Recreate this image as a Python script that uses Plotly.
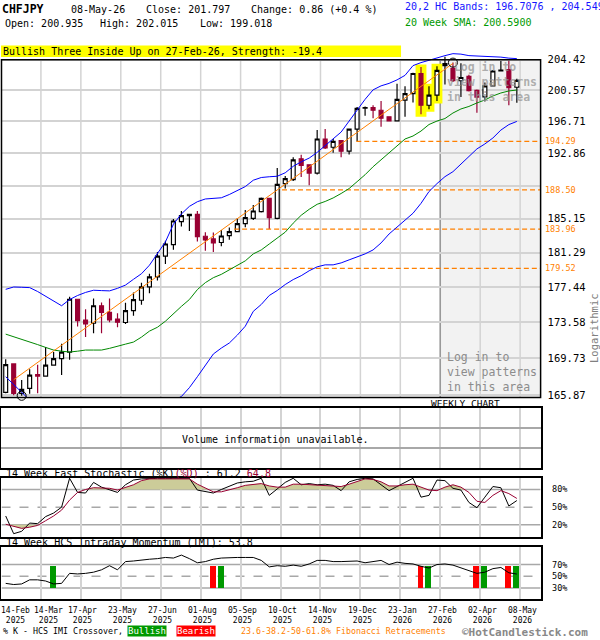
import math
import plotly.graph_objects as go

# ---------------------------------------------------------------- data
symbol = "CHFJPY"
last_date = "08-May-26"
change_abs = 0.86
change_pct = 0.4

opens = [166.19, 169.15, 166.09, 166.60, 168.04, 167.88, 169.02, 169.71, 170.41, 176.10,
         173.84, 173.49, 175.39, 174.67, 173.95, 173.57, 174.85, 175.99, 177.46, 178.56,
         180.88, 182.18, 184.81, 185.50, 185.65, 183.14, 182.84, 182.43, 183.21, 183.67,
         184.59, 185.20, 185.97, 187.50, 185.20, 189.24, 189.70, 192.18, 191.47, 190.49,
         194.57, 193.57, 194.37, 193.10, 195.77, 198.35, 198.41, 198.08, 197.27, 196.78,
         199.34, 200.13, 202.66, 198.70, 199.96, 203.66, 203.32, 201.75, 202.29, 200.55,
         199.74, 201.10, 203.00, 203.16, 200.935]
highs = [169.65, 169.20, 167.47, 168.60, 169.08, 170.94, 170.41, 171.29, 176.37, 176.15,
         175.02, 176.18, 175.75, 176.18, 174.56, 175.72, 176.84, 177.93, 178.92, 181.36,
         182.63, 185.12, 186.04, 185.73, 186.04, 183.61, 183.58, 183.86, 184.14, 185.20,
         186.15, 186.73, 187.62, 187.55, 191.08, 190.14, 192.38, 192.66, 191.50, 195.65,
         195.77, 194.57, 194.45, 195.77, 198.48, 198.53, 198.69, 199.22, 197.30, 201.36,
         201.06, 202.75, 203.50, 201.06, 203.58, 204.80, 204.04, 203.95, 202.50, 200.67,
         201.52, 203.10, 204.23, 204.29, 202.015]
lows = [166.09, 165.90, 165.83, 166.04, 166.09, 167.81, 169.00, 167.98, 169.60, 173.13,
        172.00, 172.42, 172.42, 173.60, 173.06, 173.41, 174.31, 175.50, 176.76, 178.18,
        180.02, 181.62, 184.25, 183.75, 182.55, 181.51, 181.36, 182.00, 182.73, 183.60,
        184.17, 185.00, 185.86, 183.98, 185.08, 188.66, 189.55, 190.02, 189.04, 190.33,
        193.37, 192.90, 192.38, 192.70, 194.29, 197.39, 197.11, 196.05, 196.75, 196.75,
        197.27, 199.03, 197.60, 198.20, 199.22, 201.29, 201.60, 199.73, 200.40, 197.76,
        199.16, 201.05, 202.90, 198.69, 199.018]
closes = [169.08, 166.09, 166.50, 167.98, 167.88, 169.02, 169.71, 170.41, 176.10, 173.78,
          173.41, 175.39, 174.67, 173.84, 173.60, 174.85, 176.07, 177.46, 178.56, 180.88,
          182.26, 184.89, 185.50, 185.65, 183.11, 182.73, 182.39, 183.17, 183.67, 184.59,
          185.28, 186.04, 187.50, 185.28, 189.15, 189.82, 192.06, 191.39, 190.49, 194.57,
          193.49, 194.29, 193.10, 195.77, 198.32, 198.42, 198.08, 197.11, 196.78, 199.43,
          200.13, 202.66, 198.70, 199.96, 203.07, 203.91, 201.75, 202.16, 200.50, 199.71,
          201.10, 202.98, 203.10, 200.88, 201.797]

upper_band = [177.19, 177.45, 177.42, 177.38, 176.95, 176.45, 175.90, 175.39, 176.07, 176.51,
              176.85, 177.09, 177.05, 177.02, 177.30, 177.66, 178.30, 178.92, 179.87, 181.13,
              182.50, 184.52, 185.70, 186.58, 187.12, 187.44, 187.52, 187.58, 187.96, 188.40,
              188.89, 189.64, 189.96, 190.05, 190.11, 190.52, 191.29, 191.82, 192.27, 192.95,
              193.73, 194.57, 195.41, 196.75, 198.08, 199.43, 200.61, 201.11, 201.42, 201.86,
              202.43, 203.66, 204.04, 204.36, 204.67, 204.93, 205.18, 205.12, 204.93, 204.90,
              204.86, 204.80, 204.74, 204.61, 204.549]
lower_band = [167.81, 166.99, 166.17, 165.30, 164.60, 164.00, 163.50, 163.10, 162.60, 162.20,
              162.00, 161.90, 161.90, 162.00, 162.20, 162.50, 162.90, 163.40, 163.90, 164.40,
              164.90, 165.35, 165.76, 166.67, 167.81, 169.06, 170.20, 170.83, 171.37, 172.21,
              173.17, 174.78, 175.53, 176.51, 177.06, 177.72, 178.27, 178.70, 179.25, 179.69,
              179.91, 179.91, 180.13, 180.47, 180.80, 181.14, 181.59, 182.38, 183.40, 184.18,
              184.98, 185.78, 186.93, 188.31, 189.24, 190.06, 190.65, 191.53, 192.42, 193.37,
              193.97, 194.69, 195.65, 196.32, 196.7076]
sma20 = [172.32, 172.05, 171.79, 171.50, 171.20, 170.90, 170.62, 170.50, 170.41, 170.50,
         170.62, 170.62, 170.62, 170.80, 170.99, 171.25, 171.47, 172.00, 172.64, 173.06,
         173.71, 174.56, 175.32, 176.07, 177.16, 177.93, 178.48, 178.85, 179.36, 179.91,
         180.36, 181.14, 181.59, 182.26, 182.93, 183.61, 184.64, 185.55, 186.24, 186.82,
         187.15, 187.56, 188.08, 188.66, 189.47, 190.29, 191.24, 192.06, 192.90, 193.73,
         194.57, 194.93, 195.53, 196.33, 196.75, 197.06, 197.74, 198.24, 198.55, 198.98,
         199.35, 199.85, 200.22, 200.47, 200.59]

stoch_k = [35, 5, 9, 23, 22, 34, 40, 50, 99, 75, 74, 92, 84, 79, 75, 88, 96, 98, 99, 99,
           99, 99, 99, 99, 79, 76, 74, 80, 85, 91, 93, 94, 99, 70, 81, 92, 99, 88, 90, 88,
           89, 87, 78, 93, 97, 99, 98, 88, 78, 85, 92, 99, 67, 70, 96, 95, 82, 79, 58, 49,
           67, 85, 83, 52, 61.2]
stoch_d = [21, 17, 14, 16, 19, 27, 35, 45, 62, 75, 80, 83, 83, 82, 79, 83, 88, 95, 98, 98,
           98, 98, 98, 98, 89, 82, 76, 76, 79, 83, 87, 89, 90, 86, 84, 84, 89, 89, 88, 87,
           87, 86, 85, 89, 94, 98, 97, 93, 86, 86, 88, 89, 84, 79, 78, 84, 88, 84, 75, 60,
           58, 70, 78, 73, 64.8]
imi = [38, 36, 37, 44, 44, 42, 37, 38, 55, 54, 55, 57, 61, 68, 61, 75, 76, 78, 79, 80,
       82, 81, 86, 80, 73, 75, 79, 81, 82, 82, 82, 82, 77, 66, 68, 67, 69, 67, 71, 77,
       77, 75, 75, 75, 76, 73, 75, 77, 70, 74, 72, 71, 67, 64, 70, 71, 69, 64, 59, 55,
       57, 63, 65, 56, 53.8]
bullish_cross = [6, 27, 53, 60, 64]
bearish_cross = [26, 52, 59, 63]

fib_levels = [194.29, 188.50, 183.96, 179.52]
fib_start_week = [43.9, 34.6, 28.6, 20.8]
trend_weeks = [1, 56]
trend_values = [167.5, 203.94]
low_mark_week = 2
high_mark_week = 56

pattern_text = "Bullish Three Inside Up on 27-Feb-26, Strength: -19.4"
pattern_weeks = [52, 53, 54]

price_ticks = [204.42, 200.57, 196.71, 192.86, 189.00, 185.15, 181.29, 177.44, 173.58, 169.73, 165.87]
price_tick_text = ["204.42", "200.57", "196.71", "192.86", "", "185.15", "181.29", "177.44",
                   "173.58", "169.73", "165.87"]
label_weeks = [0, 4, 9, 14, 19, 24, 29, 34, 39, 44, 49, 54, 59, 64]
label_dates = ["14-Feb", "14-Mar", "17-Apr", "23-May", "27-Jun", "01-Aug", "05-Sep",
               "10-Oct", "14-Nov", "19-Dec", "23-Jan", "27-Feb", "02-Apr", "08-May"]
label_years = ["2025"] * 10 + ["2026"] * 4

# ---------------------------------------------------------------- geometry / style
W, H = 600, 640
FONT = "DejaVu Sans Mono"
X0_PX, X1_PX = 0.5, 540.5
SLOT, FIRST = 8.0, 4.7
XR = [(X0_PX - FIRST) / SLOT, (X1_PX - FIRST) / SLOT]
GRID_SHIFT = 0.4125           # grid lines sit just right of the labelled candle
grid_pos = [w + GRID_SHIFT for w in label_weeks[1:]]
PX_PER_LN = 1617.0
TOP_REF = 204.42              # value at y = 60 px
LN10 = math.log(10)
y_lo = math.log10(TOP_REF) - 340 / (PX_PER_LN * LN10)
y_hi = math.log10(TOP_REF) + 8 / (PX_PER_LN * LN10)
IMI_TOP_PX, IMI_BOT_PX = 550.3, 602.7
IMI_PX_PER_PCT = 0.5925
imi_range = [100 - (IMI_BOT_PX - IMI_TOP_PX) / IMI_PX_PER_PCT, 100]

def pyp(p):  # pixel y -> paper
    return 1 - p / H

def pxp(p):  # pixel x -> paper
    return p / W

weeks = list(range(len(closes)))
RED = "#990033"
GRID = "#d3d3d3"
HGRID = "#a8a8a8"
ORANGE = "#ff8000"

fig = go.Figure()

# fibonacci lines
for lvl, st in zip(fib_levels, fib_start_week):
    fig.add_trace(go.Scatter(x=[st, XR[1]], y=[lvl, lvl], mode="lines",
                             line=dict(color=ORANGE, width=1.3, dash="5px,3px"),
                             hoverinfo="skip", xaxis="x", yaxis="y"))

# bands & sma
fig.add_trace(go.Scatter(x=weeks, y=upper_band, mode="lines", line=dict(color="#0000ff", width=1),
                         hoverinfo="skip", xaxis="x", yaxis="y"))
fig.add_trace(go.Scatter(x=weeks, y=lower_band, mode="lines", line=dict(color="#0000ff", width=1),
                         hoverinfo="skip", xaxis="x", yaxis="y"))
fig.add_trace(go.Scatter(x=weeks, y=sma20, mode="lines", line=dict(color="#008800", width=1),
                         hoverinfo="skip", xaxis="x", yaxis="y"))

# candles
fig.add_trace(go.Candlestick(
    x=weeks, open=opens, high=highs, low=lows, close=closes,
    increasing=dict(line=dict(color="black", width=1.2), fillcolor="white"),
    decreasing=dict(line=dict(color=RED, width=1.2), fillcolor=RED),
    whiskerwidth=0, hoverinfo="skip", xaxis="x", yaxis="y"))

# trend line
fig.add_trace(go.Scatter(x=trend_weeks, y=trend_values, mode="lines",
                         line=dict(color=ORANGE, width=1), hoverinfo="skip", xaxis="x", yaxis="y"))
# extreme markers
fig.add_trace(go.Scatter(x=[low_mark_week, high_mark_week],
                         y=[lows[low_mark_week], highs[high_mark_week]],
                         mode="markers", cliponaxis=False,
                         marker=dict(symbol="circle-open", size=9, color="black", line=dict(width=1)),
                         hoverinfo="skip", xaxis="x", yaxis="y"))

# volume panel (no data available) - invisible anchor trace so the panel is drawn
fig.add_trace(go.Scatter(x=[XR[0]], y=[-1], mode="markers", marker=dict(opacity=0),
                         hoverinfo="skip", xaxis="x2", yaxis="y2"))

# ---- stochastic fill
def threshold_segments(xs, ys, thr, above):
    segs, seg = [], None
    ins = (lambda v: v > thr) if above else (lambda v: v < thr)
    for k, (x, y) in enumerate(zip(xs, ys)):
        if k > 0 and ins(y) != ins(ys[k - 1]):
            x0, y0 = xs[k - 1], ys[k - 1]
            xc = x0 + (thr - y0) * (x - x0) / (y - y0)
            if seg is None:
                seg = [(xc, thr)]
            else:
                seg.append((xc, thr))
                segs.append(seg)
                seg = None
        if ins(y):
            if seg is None:
                seg = [(x, thr)]
            seg.append((x, y))
    if seg:
        seg.append((xs[-1], thr))
        segs.append(seg)
    return segs

for thr, above in [(80, True), (20, False)]:
    for seg in threshold_segments(weeks, stoch_d, thr, above):
        fig.add_trace(go.Scatter(x=[p[0] for p in seg], y=[p[1] for p in seg], fill="toself",
                                 fillcolor="#cccc99", mode="lines", line=dict(width=0),
                                 hoverinfo="skip", xaxis="x3", yaxis="y3"))
fig.add_trace(go.Scatter(x=weeks, y=stoch_k, mode="lines", line=dict(color="black", width=1),
                         hoverinfo="skip", xaxis="x3", yaxis="y3"))
fig.add_trace(go.Scatter(x=weeks, y=stoch_d, mode="lines", line=dict(color=RED, width=1),
                         hoverinfo="skip", xaxis="x3", yaxis="y3"))

# ---- IMI
BAR_LO, BAR_HI = 31, 67
fig.add_trace(go.Bar(x=bullish_cross, y=[BAR_HI - BAR_LO] * len(bullish_cross), base=BAR_LO,
                     width=0.75, marker=dict(color="#009900", line=dict(width=0)),
                     hoverinfo="skip", xaxis="x4", yaxis="y4"))
fig.add_trace(go.Bar(x=bearish_cross, y=[BAR_HI - BAR_LO] * len(bearish_cross), base=BAR_LO,
                     width=0.75, marker=dict(color="#ff0000", line=dict(width=0)),
                     hoverinfo="skip", xaxis="x4", yaxis="y4"))
fig.add_trace(go.Scatter(x=weeks, y=imi, mode="lines", line=dict(color="black", width=1),
                         hoverinfo="skip", xaxis="x4", yaxis="y4"))

# ---------------------------------------------------------------- axes
xdom = [pxp(X0_PX), pxp(X1_PX)]
common_x = dict(domain=xdom, range=XR, zeroline=False, fixedrange=True, ticks="")
fig.update_layout(
    width=W, height=H, margin=dict(l=0, r=0, t=0, b=0),
    paper_bgcolor="white", plot_bgcolor="rgba(0,0,0,0)", showlegend=False,
    font=dict(family=FONT, size=10, color="black"), boxgap=0.3, bargap=0,
    xaxis=dict(**common_x, anchor="y", showgrid=False, showticklabels=False,
               rangeslider=dict(visible=False)),
    yaxis=dict(type="log", domain=[pyp(400), pyp(52)], range=[y_lo, y_hi], anchor="x",
               side="right", tickvals=price_ticks, ticktext=price_tick_text, showgrid=True,
               gridcolor=GRID, gridwidth=1.5, zeroline=False, ticks="", fixedrange=True,
               tickfont=dict(size=10.5), ticklabelstandoff=6),
    xaxis2=dict(**common_x, anchor="y2", tickvals=grid_pos, showgrid=True, gridcolor=GRID,
                gridwidth=1.5, showticklabels=False, showline=True, mirror=True,
                linecolor="black", linewidth=1.5),
    yaxis2=dict(domain=[pyp(470.7), pyp(410.7)], range=[0, 3], anchor="x2", tickvals=[1, 2],
                showgrid=True, gridcolor=HGRID, gridwidth=1.5, showticklabels=False,
                showline=True, mirror=True, linecolor="black", linewidth=1.5, zeroline=False,
                ticks="", fixedrange=True),
    xaxis3=dict(**common_x, anchor="y3", tickvals=grid_pos, showgrid=True, gridcolor=GRID,
                gridwidth=1.5, showticklabels=False, showline=True, mirror=True,
                linecolor="black", linewidth=1.5),
    yaxis3=dict(domain=[pyp(540), pyp(480.7)], range=[0, 100], anchor="x3", side="right",
                tickvals=[80, 50, 20], ticktext=["80%", "50%", "20%"], showgrid=False,
                showline=True, mirror=True, linecolor="black", linewidth=1.5, zeroline=False,
                ticks="", fixedrange=True, tickfont=dict(size=8.5), ticklabelstandoff=8),
    xaxis4=dict(**common_x, anchor="y4", tickvals=grid_pos, showgrid=True, gridcolor=GRID,
                gridwidth=1.5, showticklabels=False, showline=True, mirror=True,
                linecolor="black", linewidth=1.5),
    yaxis4=dict(domain=[pyp(IMI_BOT_PX), pyp(IMI_TOP_PX)], range=imi_range, anchor="x4",
                side="right", tickvals=[70, 50, 30], ticktext=["70%", "50%", "30%"],
                showgrid=False, showline=True, mirror=True, linecolor="black", linewidth=1.5,
                zeroline=False, ticks="", fixedrange=True, tickfont=dict(size=8.5),
                ticklabelstandoff=8),
)

# ---------------------------------------------------------------- shapes
shapes = []
# shaded (locked) area
shapes.append(dict(type="rect", xref="x", yref="paper", x0=54 + GRID_SHIFT, x1=XR[1],
                   y0=pyp(400), y1=pyp(60), fillcolor="#f2f2f2", line=dict(width=0), layer="below"))
for g in grid_pos:
    shapes.append(dict(type="line", xref="x", yref="paper", x0=g, x1=g, y0=pyp(400), y1=pyp(60),
                       line=dict(color=GRID, width=1.5), layer="below"))
shapes.append(dict(type="line", xref="x", yref="paper", x0=54 + GRID_SHIFT, x1=54 + GRID_SHIFT,
                   y0=pyp(400), y1=pyp(60), line=dict(color="#999999", width=1.5), layer="below"))
# yellow pattern highlight, between grid and candles
pad = math.exp(2.5 / PX_PER_LN)
for w in pattern_weeks:
    shapes.append(dict(type="rect", xref="x", yref="y", x0=w - 0.68, x1=w + 0.68,
                       y0=lows[w] / pad, y1=highs[w] * pad,
                       fillcolor="#ffff00", line=dict(width=0), layer="between"))
# main frame
shapes.append(dict(type="rect", xref="paper", yref="paper", x0=pxp(X0_PX), x1=pxp(X1_PX),
                   y0=pyp(400), y1=pyp(60), line=dict(color="black", width=1.5), layer="above"))
# pattern banner
shapes.append(dict(type="rect", xref="paper", yref="paper", x0=0, x1=pxp(400.7), y0=pyp(57.3),
                   y1=pyp(45.7), fillcolor="#ffff00", line=dict(width=0), layer="below"))
# oscillator levels
for yr, levels in [("y3", (80, 50, 20)), ("y4", (70, 50, 30))]:
    xr_ = "x3" if yr == "y3" else "x4"
    for lv in levels:
        shapes.append(dict(type="line", xref=xr_, yref=yr, x0=XR[0], x1=XR[1], y0=lv, y1=lv,
                           line=dict(color=HGRID, width=1.5, dash="dash" if lv == 50 else "solid"),
                           layer="below"))
fig.update_layout(shapes=shapes)

# ---------------------------------------------------------------- annotations
ann = []

def text(t, x, y, size=10, color="black", xanchor="left", **kw):
    ann.append(dict(text=t, x=pxp(x), y=pyp(y), xref="paper", yref="paper", xanchor=xanchor,
                    yanchor="middle", showarrow=False,
                    font=dict(family=FONT, size=size, color=color), **kw))

text(f"<b>{symbol}</b>", -1, 9.5, size=11.5)
text(last_date, 68, 9.5)
text(f"Close: {closes[-1]:.3f}", 143, 9.5)
text(f"Change: {change_abs:.2f} (+{change_pct:.1f} %)", 248, 9.5)
text(f"20,2 HC Bands: {lower_band[-1]:.4f} , {upper_band[-1]:.3f}", 403, 6.5, color="#1515ff")
text(f"Open: {opens[-1]:.3f}", 2, 24)
text(f"High: {highs[-1]:.3f}", 97, 24)
text(f"Low: {lows[-1]:.3f}", 197, 24)
text(f"20 Week SMA: {sma20[-1]:.4f}", 403, 22.5, color="#009900")
text(pattern_text, 0, 51.5)

for lvl in fib_levels:
    ann.append(dict(text=f"{lvl:.2f}", x=pxp(543), y=math.log10(lvl), xref="paper", yref="y",
                    xanchor="left", yanchor="middle", showarrow=False,
                    font=dict(family=FONT, size=8.5, color=ORANGE)))

text("Logarithmic", 594, 330, size=10.5, color="#808080", xanchor="center", textangle=-90)
text("Log in to<br>view patterns<br>in this area", 445, 374, size=11.5, color="#8c8c8c", align="left")
text("<b> Log in to<br>view patterns<br>in this area</b>", 445, 82.5, size=11.5,
     color="rgba(150,150,150,0.75)", align="left")
text("WEEKLY CHART", 429, 406.5, size=9.5)
text("Volume information unavailable.", 275, 442, xanchor="center")
text(f"14 Week Fast Stochastic (%K)<span style='color:{RED}'>(%D)</span> : {stoch_k[-1]:.1f} "
     f"<span style='color:{RED}'>{stoch_d[-1]:.1f}</span>", 3, 476)
text(f"14 Week HCS Intraday Momentum (IMI): {imi[-1]:.1f}", 3, 546)

LABEL_Y = 619.2
for w, d, yv in zip(label_weeks, label_dates, label_years):
    lab = f"{d}<br>{yv}"
    if w == 0:
        text(lab, 14.5, LABEL_Y, size=8, xanchor="center")
        continue
    shift = 8 if w == 4 else 2
    ann.append(dict(text=lab, x=w + GRID_SHIFT, y=pyp(LABEL_Y), xref="x4", yref="paper",
                    xanchor="center", yanchor="middle", showarrow=False, xshift=shift,
                    font=dict(family=FONT, size=8, color="black")))

text("% K - HCS IMI Crossover,", 0, 635, size=8.3)
text("Bullish", 126, 635, size=9, color="white", bgcolor="#009900", borderpad=0)
text("Bearish", 175, 635, size=9, color="white", bgcolor="#ff0000", borderpad=0)
text("23.6-38.2-50-61.8% Fibonacci Retracements", 238, 635, size=8.3, color=ORANGE)
text("<b>©HotCandlestick.com</b>", 460, 636, size=11, color="#888888")

fig.update_layout(annotations=ann)

fig.write_html("out.html", config={"displayModeBar": False},
               post_script="document.body.style.margin='0px';")
